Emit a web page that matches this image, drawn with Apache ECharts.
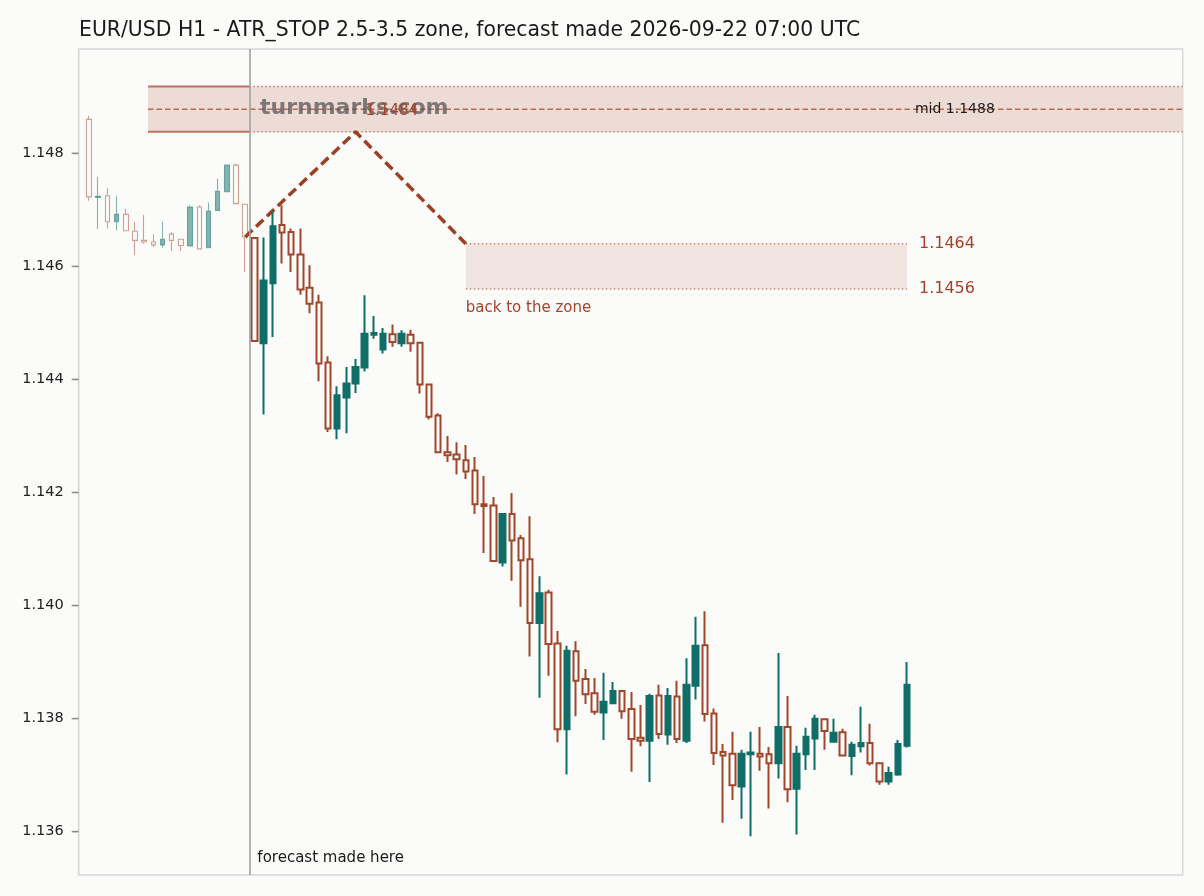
<!DOCTYPE html>
<html><head><meta charset="utf-8">
<script src="https://cdn.jsdelivr.net/npm/echarts@6/dist/echarts.min.js"></script>
<style>html,body{margin:0;padding:0;background:#fbfbf9;} #c{width:1204px;height:896px;}</style>
</head><body><div id="c"></div>
<script>
const titleText = 'EUR/USD H1 - ATR_STOP 2.5-3.5 zone, forecast made 2026-09-22 07:00 UTC';
const yTicks = [1.136, 1.138, 1.140, 1.142, 1.144, 1.146, 1.148];
// [open, close, low, high]
const histCandles = [
  [1.14860,1.14723,1.14716,1.14867],
  [1.14722,1.14724,1.14666,1.14758],
  [1.14725,1.14679,1.14667,1.14738],
  [1.14679,1.14692,1.14664,1.14725],
  [1.14692,1.14663,1.14663,1.14702],
  [1.14662,1.14646,1.14620,1.14679],
  [1.14646,1.14643,1.14640,1.14691],
  [1.14643,1.14638,1.14634,1.14657],
  [1.14638,1.14648,1.14633,1.14679],
  [1.14657,1.14646,1.14627,1.14661],
  [1.14648,1.14637,1.14627,1.14648],
  [1.14636,1.14705,1.14636,1.14708],
  [1.14705,1.14631,1.14631,1.14708],
  [1.14633,1.14698,1.14633,1.14713],
  [1.14699,1.14733,1.14698,1.14755],
  [1.14732,1.14779,1.14732,1.14779],
  [1.14779,1.14711,1.14710,1.14782],
  [1.14710,1.14652,1.14590,1.14710]
];
const forecastCandles = [
  [1.14650,1.14468,1.14466,1.14652],
  [1.14464,1.14575,1.14338,1.14651],
  [1.14570,1.14671,1.14475,1.14697],
  [1.14673,1.14660,1.14605,1.14708],
  [1.14661,1.14621,1.14590,1.14667],
  [1.14621,1.14559,1.14550,1.14667],
  [1.14562,1.14534,1.14517,1.14602],
  [1.14536,1.14428,1.14397,1.14550],
  [1.14430,1.14313,1.14307,1.14441],
  [1.14313,1.14372,1.14294,1.14388],
  [1.14368,1.14393,1.14305,1.14422],
  [1.14393,1.14422,1.14376,1.14436],
  [1.14421,1.14481,1.14414,1.14549],
  [1.14479,1.14482,1.14472,1.14512],
  [1.14453,1.14481,1.14446,1.14491],
  [1.14480,1.14466,1.14458,1.14497],
  [1.14464,1.14481,1.14458,1.14487],
  [1.14479,1.14464,1.14449,1.14488],
  [1.14465,1.14391,1.14375,1.14465],
  [1.14391,1.14334,1.14329,1.14391],
  [1.14336,1.14271,1.14271,1.14340],
  [1.14271,1.14266,1.14254,1.14300],
  [1.14267,1.14259,1.14232,1.14289],
  [1.14257,1.14237,1.14224,1.14284],
  [1.14239,1.14179,1.14162,1.14263],
  [1.14179,1.14176,1.14093,1.14229],
  [1.14177,1.14079,1.14079,1.14192],
  [1.14076,1.14162,1.14069,1.14162],
  [1.14162,1.14115,1.14044,1.14199],
  [1.14119,1.14080,1.13998,1.14125],
  [1.14082,1.13969,1.13910,1.14158],
  [1.13969,1.14022,1.13837,1.14052],
  [1.14023,1.13932,1.13876,1.14028],
  [1.13933,1.13781,1.13758,1.13955],
  [1.13781,1.13920,1.13701,1.13929],
  [1.13919,1.13867,1.13804,1.13937],
  [1.13870,1.13843,1.13826,1.13888],
  [1.13845,1.13812,1.13807,1.13872],
  [1.13811,1.13830,1.13762,1.13881],
  [1.13827,1.13849,1.13827,1.13865],
  [1.13849,1.13813,1.13800,1.13849],
  [1.13817,1.13764,1.13706,1.13847],
  [1.13766,1.13761,1.13751,1.13824],
  [1.13761,1.13840,1.13688,1.13844],
  [1.13841,1.13773,1.13764,1.13860],
  [1.13772,1.13840,1.13754,1.13854],
  [1.13839,1.13764,1.13757,1.13867],
  [1.13761,1.13860,1.13757,1.13907],
  [1.13858,1.13929,1.13834,1.13980],
  [1.13930,1.13808,1.13795,1.13990],
  [1.13809,1.13739,1.13718,1.13818],
  [1.13741,1.13735,1.13616,1.13755],
  [1.13738,1.13682,1.13656,1.13777],
  [1.13680,1.13738,1.13623,1.13745],
  [1.13737,1.13740,1.13592,1.13777],
  [1.13738,1.13733,1.13708,1.13785],
  [1.13737,1.13721,1.13641,1.13750],
  [1.13721,1.13785,1.13694,1.13916],
  [1.13785,1.13675,1.13652,1.13840],
  [1.13676,1.13738,1.13595,1.13752],
  [1.13737,1.13768,1.13709,1.13784],
  [1.13765,1.13800,1.13709,1.13807],
  [1.13799,1.13778,1.13745,1.13799],
  [1.13759,1.13775,1.13759,1.13800],
  [1.13776,1.13735,1.13735,1.13782],
  [1.13734,1.13754,1.13700,1.13759],
  [1.13751,1.13757,1.13740,1.13821],
  [1.13757,1.13721,1.13717,1.13791],
  [1.13721,1.13689,1.13683,1.13721],
  [1.13689,1.13704,1.13683,1.13715],
  [1.13701,1.13755,1.13699,1.13762],
  [1.13752,1.13860,1.13749,1.13900]
];
const histStart = 0;
const forecastStart = 18;
const forecastLineX = 17.45;
const zoneStartX = 6.42;
const zoneLow = 1.14838, zoneHigh = 1.14918, zoneMid = 1.14878;
const targetLow = 1.1456, targetHigh = 1.1464;
const targetStartX = 41, targetEndX = 89;
const pathX = [17, 29, 41];
const pathY = [1.14652, 1.14838, 1.1464];
const xMin = -1.12, xMax = 119;
const yMin = 1.135234, yMax = 1.149845;

const RED = '#a1462a', TEAL = '#0f6e67';
const LABEL_RED = '#a3442a';
const FONT = 'DejaVu Sans';
const FRAME = '#d4dad7';
const TICK = '#868c88';

const histData = histCandles.map((d, k) => [histStart + k].concat(d));
const fcData = forecastCandles.map((d, k) => [forecastStart + k].concat(d));

function seg(x0, x1, y) { return [[x0, y], [x1, y]]; }
function lineSeries(data, color, width, type, z) {
  return { type: 'line', data: data, symbol: 'none', showSymbol: false, silent: true, z: z || 2,
    lineStyle: { color: color, width: width, type: type, cap: 'butt' }, animation: false };
}

const chart = echarts.init(document.getElementById('c'), null, { renderer: 'canvas' });
const option = {
  backgroundColor: '#fbfbf9',
  animation: false,
  title: { text: titleText, left: 79, top: 21, padding: 0,
    textStyle: { fontSize: 20.4, fontWeight: 'normal', color: '#1a1a1a', fontFamily: FONT } },
  grid: { left: 78.7, right: 21.3, top: 49, bottom: 21, show: true, borderColor: FRAME, borderWidth: 1.4, backgroundColor: 'transparent' },
  xAxis: { type: 'value', min: xMin, max: xMax, show: false },
  yAxis: { type: 'value', position: 'left', min: yMin, max: yMax,
    axisLine: { show: true, onZero: false, lineStyle: { color: FRAME, width: 1.4 } },
    splitLine: { show: false },
    axisTick: { show: true, inside: false, length: 6, lineStyle: { color: TICK, width: 1.3 }, customValues: yTicks },
    axisLabel: { customValues: yTicks, margin: 1, color: '#222', fontSize: 14.5, fontFamily: FONT,
      formatter: v => '{n|' + v.toFixed(3) + '}{g|}{t|}',
      rich: {
        n: { color: '#222', fontSize: 14.5, fontFamily: FONT, verticalAlign: 'middle' },
        g: { width: 8, height: 1, verticalAlign: 'middle' },
        t: { width: 6, height: 1.3, backgroundColor: TICK, verticalAlign: 'middle' }
      } } },
  graphic: [{ type: 'text', z: 5, style: { text: 'turnmarks.com', x: 260, y: 108, verticalAlign: 'middle',
    font: 'bold 22px "DejaVu Sans"', fill: 'rgba(80,80,80,0.72)' } }],
  series: [
    Object.assign(lineSeries(seg(zoneStartX, forecastLineX, zoneHigh), '#bf735c', 2, 'solid', 2), {
      markArea: { silent: true, z: 1, data: [
        [{ xAxis: zoneStartX, yAxis: zoneLow, itemStyle: { color: '#eddcd6' } }, { xAxis: xMax, yAxis: zoneHigh }],
        [{ xAxis: targetStartX, yAxis: targetLow, itemStyle: { color: '#f1e5e1' } }, { xAxis: targetEndX, yAxis: targetHigh }]
      ] },
      markLine: { silent: true, symbol: 'none', label: { show: false },
        lineStyle: { color: '#9ea39f', width: 1.6, type: 'solid' },
        data: [{ xAxis: forecastLineX }] }
    }),
    lineSeries(seg(zoneStartX, forecastLineX, zoneLow), '#bf735c', 2, 'solid'),
    lineSeries(seg(forecastLineX, xMax, zoneHigh), '#c27c66', 1.5, [1.5, 2.5]),
    lineSeries(seg(forecastLineX, xMax, zoneLow), '#c27c66', 1.5, [1.5, 2.5]),
    lineSeries(seg(zoneStartX, xMax, zoneMid), '#b86a55', 1.5, [5.5, 3]),
    lineSeries(seg(targetStartX, targetEndX, targetHigh), '#c48a78', 1.5, [1.5, 2.5]),
    lineSeries(seg(targetStartX, targetEndX, targetLow), '#c48a78', 1.5, [1.5, 2.5]),
    lineSeries(pathX.map((x, k) => [x, pathY[k]]), '#9c3f22', 3.5, [10, 5], 3),
    { type: 'candlestick', data: histData, encode: { x: 0, y: [1, 2, 3, 4] }, barWidth: 5, z: 4, silent: true,
      itemStyle: { color: TEAL, color0: 'rgba(0,0,0,0)', borderColor: TEAL, borderColor0: RED, borderWidth: 1.1, opacity: 0.5 } },
    { type: 'candlestick', data: fcData, encode: { x: 0, y: [1, 2, 3, 4] }, barWidth: 6, z: 4, silent: true,
      itemStyle: { color: TEAL, color0: 'rgba(0,0,0,0)', borderColor: TEAL, borderColor0: RED, borderWidth: 2 } },
    { type: 'scatter', symbolSize: 0, z: 10, silent: true, itemStyle: { opacity: 1 }, data: [
      { value: [targetEndX, targetHigh], label: { show: true, formatter: '1.1464', position: 'right', distance: 12, color: LABEL_RED, fontSize: 16, fontFamily: FONT } },
      { value: [targetEndX, targetLow], label: { show: true, formatter: '1.1456', position: 'right', distance: 12, color: LABEL_RED, fontSize: 16, fontFamily: FONT } },
      { value: [targetEndX, zoneMid], label: { show: true, formatter: 'mid 1.1488', position: 'right', distance: 8, color: '#1a1a1a', fontSize: 14, fontFamily: FONT } },
      { value: [targetStartX, targetLow], label: { show: true, formatter: 'back to the zone', position: 'right', distance: 0, offset: [0, 19], color: LABEL_RED, fontSize: 15, fontFamily: FONT } },
      { value: [pathX[1], pathY[1]], label: { show: true, formatter: '1.1484', position: 'right', distance: 10, offset: [0, -21], color: LABEL_RED, fontSize: 15, fontFamily: FONT } },
      { value: [forecastLineX, yMin], label: { show: true, formatter: 'forecast made here', position: 'right', distance: 8, offset: [0, -17], color: '#1a1a1a', fontSize: 15, fontFamily: FONT } }
    ] }
  ]
};
chart.setOption(option);
</script></body></html>
